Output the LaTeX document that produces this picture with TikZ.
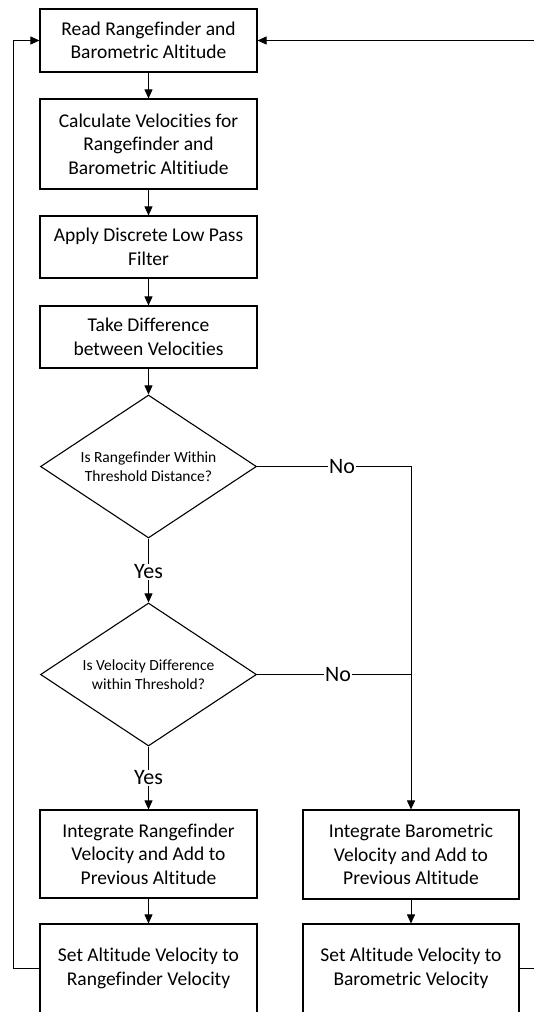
\documentclass[tikz,border=0pt]{standalone}
\usepackage{fontspec}
\setmainfont{Carlito}[Ligatures={NoCommon,NoRare,NoContextual}]
\usetikzlibrary{arrows.meta, shapes.geometric}

\tikzset{
    procbox/.style={draw, line width=1.1pt, fill=white, minimum width=217pt, align=center, font=\fontsize{19.5}{23.5}\selectfont},
    decision/.style={draw, diamond, line width=1.1pt, aspect=1.5, minimum width=216pt, minimum height=143pt, inner sep=0pt, align=center, font=\fontsize{15.5}{19}\selectfont},
    answer/.style={inner sep=1pt, font=\fontsize{22}{26}\selectfont},
    flow/.style={-{Triangle[width=8pt,length=9pt]}, line width=0.8pt},
    link/.style={line width=0.8pt}
}

\begin{document}
\begin{tikzpicture}[x=1pt, y=-1pt]
    \useasboundingbox (0,0) rectangle (534,1012);
    \clip (0,0) rectangle (534,1012);

    % Main column
    \node[procbox, minimum height=63pt] (read) at (148.5,40.5) {Read Rangefinder and\\Barometric Altitude};
    \node[procbox, minimum height=90pt] (calc) at (148.5,144) {Calculate Velocities for\\Rangefinder and\\Barometric Altitiude};
    \node[procbox, minimum height=62pt] (filter) at (148.5,247) {Apply Discrete Low Pass\\Filter};
    \node[procbox, minimum height=62pt] (diff) at (148.5,337) {Take Difference\\between Velocities};
    \node[decision] (rangeok) at (148.5,466.5) {Is Rangefinder Within\\Threshold Distance?};
    \node[decision] (velok) at (148.5,674.5) {Is Velocity Difference\\within Threshold?};
    \node[procbox, minimum height=88pt] (intrange) at (148.5,854) {Integrate Rangefinder\\Velocity and Add to\\Previous Altitude};
    \node[procbox, minimum height=89pt] (setrange) at (148.5,968.5) {Set Altitude Velocity to\\Rangefinder Velocity};

    % Barometric column
    \node[procbox, minimum height=89pt, minimum width=216pt] (intbaro) at (411,854.5) {Integrate Barometric\\Velocity and Add to\\Previous Altitude};
    \node[procbox, minimum height=89pt, minimum width=216pt] (setbaro) at (411,968.5) {Set Altitude Velocity to\\Barometric Velocity};

    % Branch labels
    \node[answer] (yesrange) at (148.5,572) {Yes};
    \node[answer] (yesvel) at (148.5,778) {Yes};
    \node[answer] (norange) at (342,466.5) {No};
    \node[answer] (novel) at (338,674.5) {No};

    % Straight flow
    \draw[flow] (read) -- (calc);
    \draw[flow] (calc) -- (filter);
    \draw[flow] (filter) -- (diff);
    \draw[flow] (diff) -- (rangeok);
    \draw[link] (rangeok) -- (yesrange);
    \draw[flow] (yesrange) -- (velok);
    \draw[link] (velok) -- (yesvel);
    \draw[flow] (yesvel) -- (intrange);
    \draw[flow] (intrange) -- (setrange);
    \draw[flow] (intbaro) -- (setbaro);

    % No branches
    \draw[link] (rangeok.east) -- (rangeok.east -| norange.west);
    \draw[flow] (rangeok.east -| norange.east) -| (intbaro.north);
    \draw[link] (velok.east) -- (velok.east -| novel.west);
    \draw[link] (velok.east -| novel.east) -- (velok.east -| intbaro.north);

    % Loops back to start
    \coordinate (leftrail) at (13,0);
    \coordinate (rightrail) at (560,0);
    \draw[flow] (setrange.west) -- (setrange.west -| leftrail) |- (read.west);
    \draw[flow] (setbaro.east) -- (setbaro.east -| rightrail) |- (read.east);
\end{tikzpicture}
\end{document}
